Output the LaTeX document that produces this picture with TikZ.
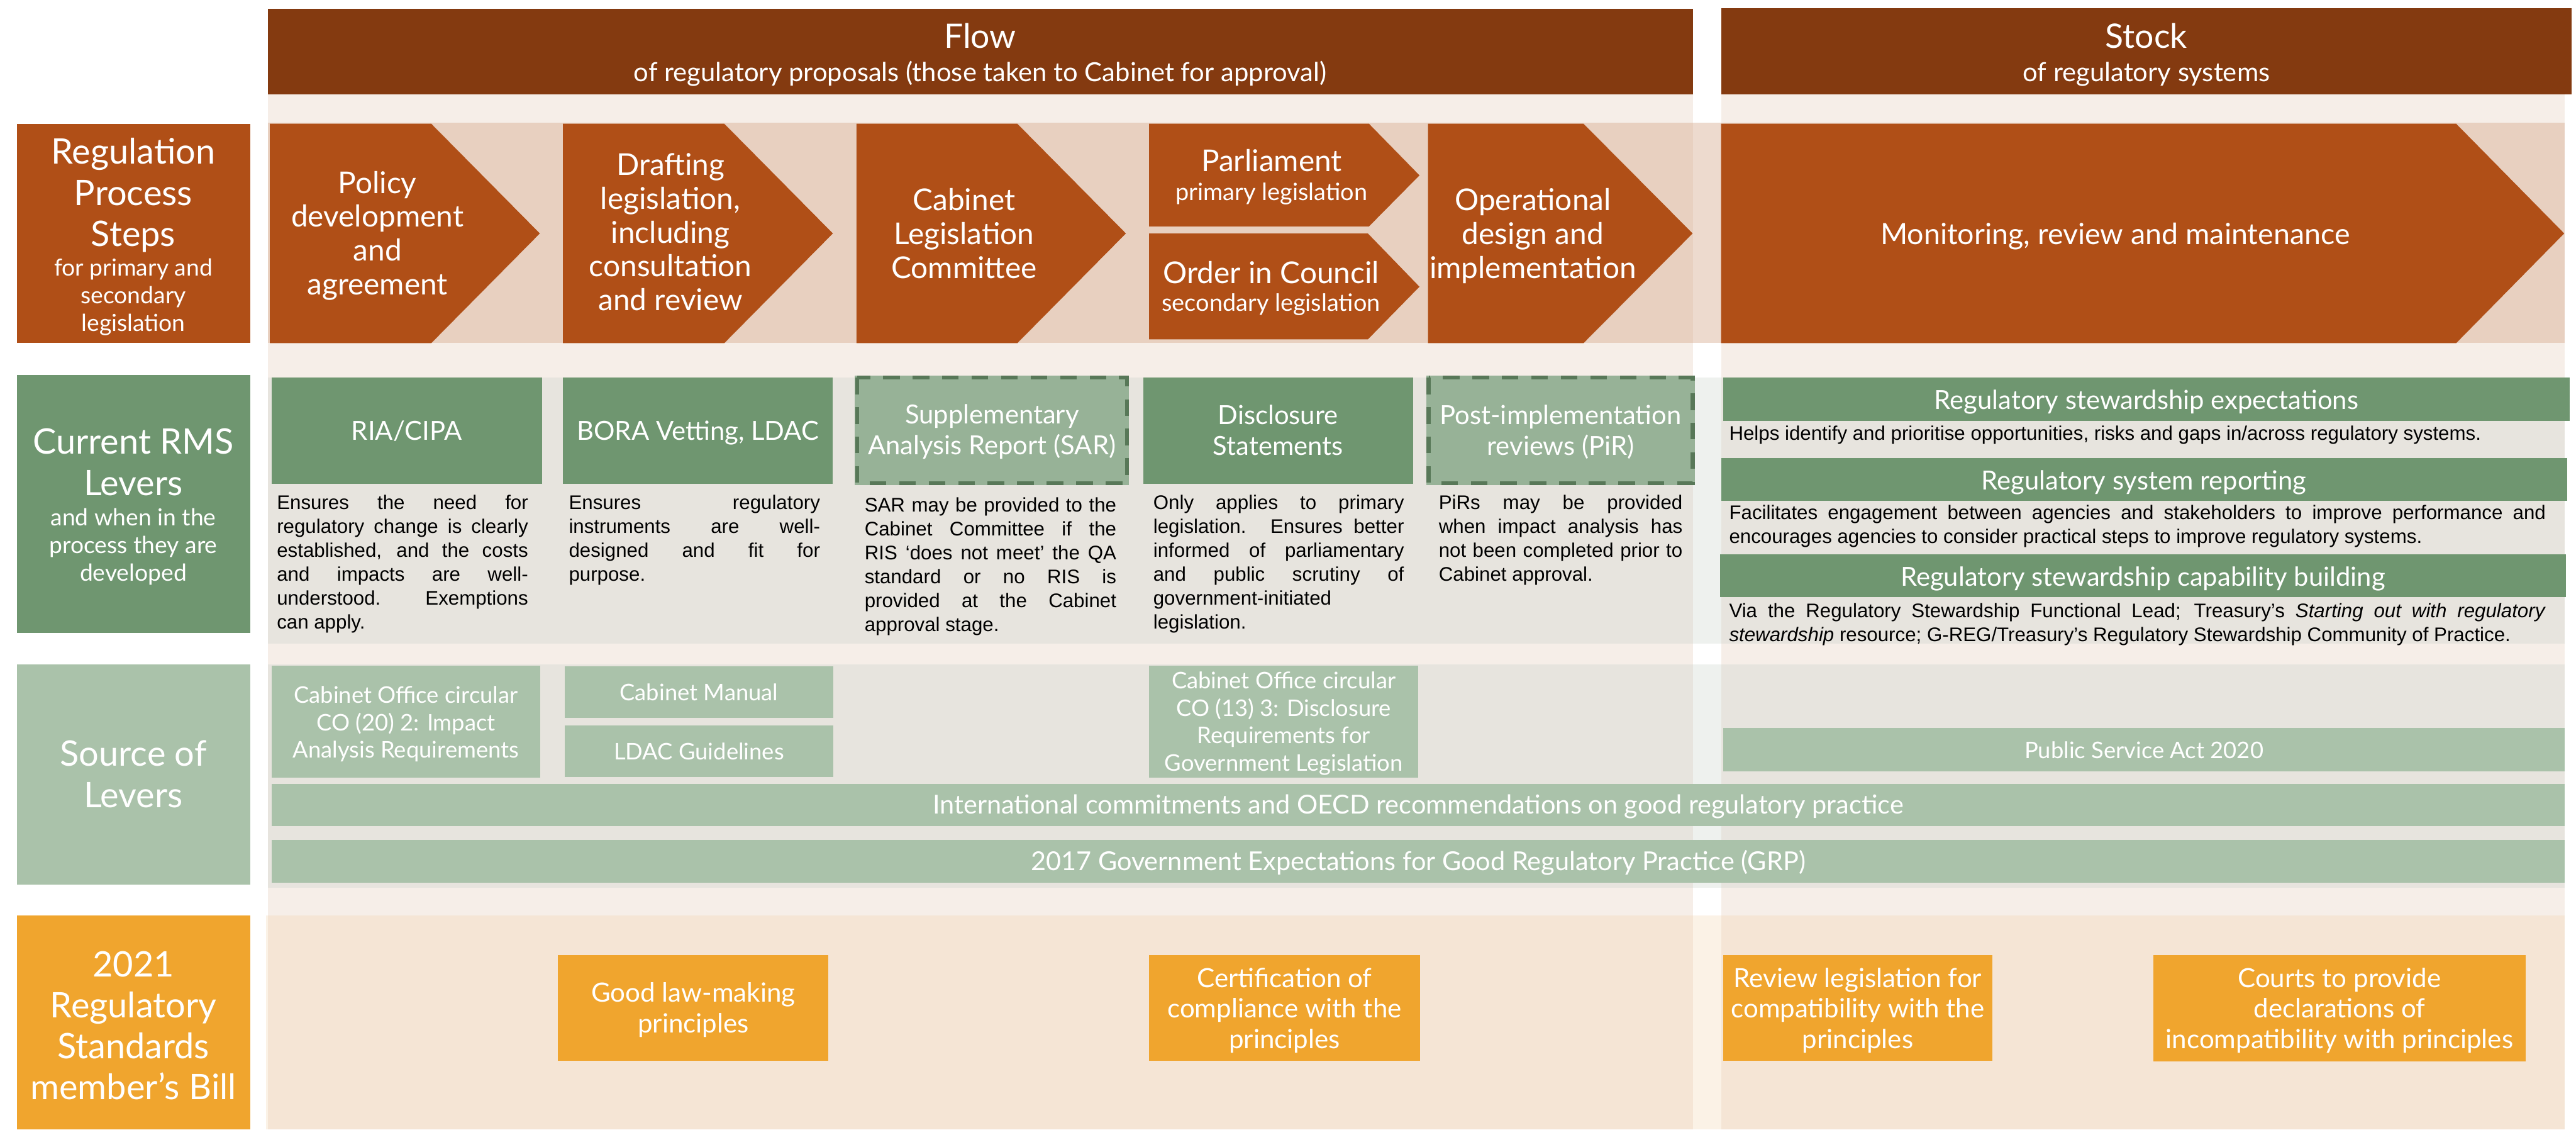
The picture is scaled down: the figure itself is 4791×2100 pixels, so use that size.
\documentclass[tikz,border=0pt]{standalone}
\usepackage{fontspec}
\setmainfont{Lato}
\newfontfamily\arialf{Liberation Sans}

\definecolor{hdr}{RGB}{132,58,16}
\definecolor{chev}{RGB}{176,79,23}
\definecolor{colbg}{RGB}{246,238,232}
\definecolor{bandA}{RGB}{211,163,132}
\definecolor{bandB}{RGB}{199,208,199}
\definecolor{bandC}{RGB}{243,211,172}
\definecolor{gdark}{RGB}{111,150,112}
\definecolor{glight}{RGB}{151,178,151}
\definecolor{gdash}{RGB}{88,120,88}
\definecolor{gsrc}{RGB}{170,194,170}
\definecolor{orng}{RGB}{240,165,46}

% paragraph lines: \jl spreads its words over the paragraph width \pw
\newlength{\pw}
\newcommand{\jl}[1]{\hbox to\pw{#1}}
\newcommand{\lastln}[1]{\hbox{#1}}

\begin{document}
\begin{tikzpicture}[x=0.01cm,y=-0.01cm,
  every node/.style={inner sep=0pt,outer sep=0pt},
  lab/.style={text=white,align=center,font=\fontsize{18.6}{21.7}\selectfont},
  labsub/.style={text=white,align=center,font=\fontsize{12.4}{14.6}\selectfont},
  ttl/.style={text=white,font=\fontsize{17.8}{20}\selectfont},
  subttl/.style={text=white,font=\fontsize{13.9}{16}\selectfont},
  chevtxt/.style={text=white,align=center,font=\fontsize{15.9}{17.9}\selectfont},
  chsub/.style={text=white,font=\fontsize{12.6}{15}\selectfont},
  montxt/.style={text=white,font=\fontsize{15.5}{18}\selectfont},
  levtxt/.style={text=white,align=center,font=\fontsize{13.9}{16.2}\selectfont},
  para/.style={anchor=base west,text=black,font=\arialf\fontsize{10.4}{12.6}\selectfont},
  srctxt/.style={text=white,align=center,font=\fontsize{12.1}{14.5}\selectfont},
  intl/.style={text=white,font=\fontsize{13.8}{16}\selectfont},
  orgtxt/.style={text=white,align=center,font=\fontsize{14}{16.2}\selectfont},
  dashbox/.style={draw=gdash,line width=2.1pt,dash pattern=on 8.8pt off 6.8pt}
]
\useasboundingbox (0,0) rectangle (4791,2100);

% column backgrounds and row bands
\fill[colbg] (498,175) rectangle (3149,2100);
\fill[colbg] (3201,175) rectangle (4770,2100);
\fill[bandA,fill opacity=0.4] (498,228) rectangle (4770,637);
\fill[bandB,fill opacity=0.3] (498,702) rectangle (4770,1196);
\fill[bandB,fill opacity=0.3] (498,1235) rectangle (4770,1650);
\fill[bandC,fill opacity=0.3] (495,1702) rectangle (4770,2100);

% column headers
\fill[hdr] (498,16) rectangle (3149,175);
\fill[hdr] (3201,15) rectangle (4783,175);
\node[ttl,anchor=base] (flow) at (1823,89) {Flow};
\node[subttl,anchor=base] (flowsub) at (1823,152) {of regulatory proposals (those taken to Cabinet for approval)};
\node[ttl,anchor=base] (stock) at (3992,89) {Stock};
\node[subttl,anchor=base] (stocksub) at (3992,152) {of regulatory systems};

% row labels
\fill[chev] (32,230) rectangle (465,638);
\node[lab,anchor=north] (lab1) at (248,257) {Regulation\\Process\\Steps};
\node[labsub,anchor=north] (lab1s) at (248,481) {for primary and\\secondary\\legislation};
\fill[gdark] (32,697) rectangle (465,1177);
\node[lab,anchor=north] (lab2) at (248,797) {Current RMS\\Levers};
\node[labsub,anchor=north] (lab2s) at (248,945) {and when in the\\process they are\\developed};
\fill[gsrc] (32,1235) rectangle (465,1644);
\node[lab,anchor=north] (lab3) at (248,1377) {Source of\\Levers};
\fill[orng] (32,1702) rectangle (465,2100);
\node[lab,anchor=north] (lab4) at (248,1768) {2021\\Regulatory\\Standards\\member’s Bill};

% process steps
\fill[chev] (502,230) -- (802,230) -- (1004,434) -- (802,638) -- (502,638) -- cycle;
\node[chevtxt,anchor=north] (st1) at (702,318) {Policy\\development\\and\\agreement};
\fill[chev] (1047,230) -- (1347,230) -- (1549,434) -- (1347,638) -- (1047,638) -- cycle;
\node[chevtxt,anchor=north] (st2) at (1247,285) {Drafting\\legislation,\\including\\consultation\\and review};
\fill[chev] (1593,230) -- (1892,230) -- (2094,434) -- (1892,638) -- (1593,638) -- cycle;
\node[chevtxt,anchor=north] (st3) at (1793,350) {Cabinet\\Legislation\\Committee};
\fill[chev] (2137,230) -- (2546,230) -- (2640,326) -- (2546,421) -- (2137,421) -- cycle;
\node[chevtxt,anchor=base] (st4) at (2365,319) {Parliament};
\node[chsub,anchor=base] (st4s) at (2365,373) {primary legislation};
\fill[chev] (2137,434) -- (2544,434) -- (2640,533) -- (2544,631) -- (2137,631) -- cycle;
\node[chevtxt,anchor=base] (st5) at (2364,527) {Order in Council};
\node[chsub,anchor=base] (st5s) at (2364,578) {secondary legislation};
\fill[chev] (2656,230) -- (2945,230) -- (3148,434) -- (2945,638) -- (2656,638) -- cycle;
\node[chevtxt,anchor=north] (st6) at (2851,350) {Operational\\design and\\implementation};
\fill[chev] (3201,230) -- (4568,230) -- (4769,434) -- (4568,638) -- (3201,638) -- cycle;
\node[montxt,anchor=base] (st7) at (3934,454) {Monitoring, review and maintenance};

% current levers: flow side
\fill[gdark] (505,702) rectangle (1008,899);
\node[levtxt,anchor=base] (lv1) at (756.5,818) {RIA/CIPA};
\fill[gdark] (1047,702) rectangle (1549,899);
\node[levtxt,anchor=base] (lv2) at (1298,818) {BORA Vetting, LDAC};
\fill[glight] (1590,698) rectangle (2100,902);
\draw[dashbox] (1594,702) rectangle (2096,898);
\node[levtxt,anchor=north] (lv3) at (1845,752) {Supplementary\\Analysis Report (SAR)};
\fill[gdark] (2126,702) rectangle (2628,899);
\node[levtxt,anchor=north] (lv4) at (2377,753) {Disclosure\\Statements};
\fill[glight] (2653,698) rectangle (3152,902);
\draw[dashbox] (2657,702) rectangle (3148,898);
\node[levtxt,anchor=north] (lv5) at (2902.5,753) {Post-implementation\\reviews (PiR)};

\node[para] (pv1) at (515,947) {\pw=4.67cm\vtop{\jl{Ensures the need for}\jl{regulatory change is clearly}%
  \jl{established, and the costs}\jl{and impacts are well-}\jl{understood. Exemptions}\lastln{can apply.}}};
\node[para] (pv2) at (1058,947) {\pw=4.67cm\vtop{\jl{Ensures regulatory}\jl{instruments are well-}%
  \jl{designed and fit for}\lastln{purpose.}}};
\node[para] (pv3) at (1608,952) {\pw=4.68cm\vtop{\jl{SAR may be provided to the}\jl{Cabinet Committee if the}%
  \jl{RIS ‘does not meet’ the QA}\jl{standard or no RIS is}\jl{provided at the Cabinet}\lastln{approval stage.}}};
\node[para] (pv4) at (2145,947) {\pw=4.66cm\vtop{\jl{Only applies to primary}\jl{legislation. Ensures better}%
  \jl{informed of parliamentary}\jl{and public scrutiny of}\lastln{government-initiated}\lastln{legislation.}}};
\node[para] (pv5) at (2676,947) {\pw=4.53cm\vtop{\jl{PiRs may be provided}\jl{when impact analysis has}%
  \jl{not been completed prior to}\lastln{Cabinet approval.}}};

% current levers: stock side
\fill[gdark] (3205,702) rectangle (4779,783);
\node[levtxt,anchor=base] (sv1) at (3992,761) {Regulatory stewardship expectations};
\node[para] (sp1) at (3216,818) {Helps identify and prioritise opportunities, risks and gaps in/across regulatory systems.};
\fill[gdark] (3201,851) rectangle (4774,931);
\node[levtxt,anchor=base] (sv2) at (3987.5,910) {Regulatory system reporting};
\node[para] (sp2) at (3216,966) {\pw=15.18cm\vtop{\jl{Facilitates engagement between agencies and stakeholders to improve performance and}%
  \lastln{encourages agencies to consider practical steps to improve regulatory systems.}}};
\fill[gdark] (3199,1031) rectangle (4772,1110);
\node[levtxt,anchor=base] (sv3) at (3985.5,1090) {Regulatory stewardship capability building};
\node[para] (sp3) at (3216,1148) {\pw=15.18cm\vtop{\jl{Via the Regulatory Stewardship Functional Lead; Treasury’s \textit{Starting out with regulatory}}%
  \lastln{\textit{stewardship} resource; G-REG/Treasury’s Regulatory Stewardship Community of Practice.}}};

% sources of levers
\fill[gsrc] (505,1238) rectangle (1005,1446);
\node[srctxt,anchor=north] (so1) at (755,1276) {Cabinet Office circular\\CO (20) 2: Impact\\Analysis Requirements};
\fill[gsrc] (1050,1239) rectangle (1550,1335);
\node[srctxt,anchor=base] (so2) at (1300,1302) {Cabinet Manual};
\fill[gsrc] (1050,1349) rectangle (1550,1445);
\node[srctxt,anchor=base] (so3) at (1300,1412) {LDAC Guidelines};
\fill[gsrc] (2137,1238) rectangle (2638,1446);
\node[srctxt,anchor=north] (so4) at (2387.5,1249) {Cabinet Office circular\\CO (13) 3: Disclosure\\Requirements for\\Government Legislation};
\fill[gsrc] (3205,1353) rectangle (4770,1434);
\node[srctxt,anchor=base] (so5) at (3987.5,1410) {Public Service Act 2020};
\fill[gsrc] (505,1457) rectangle (4770,1536);
\node[intl,anchor=base] (so6) at (2637.5,1513) {International commitments and OECD recommendations on good regulatory practice};
\fill[gsrc] (505,1562) rectangle (4770,1641);
\node[intl,anchor=base] (so7) at (2637.5,1618) {2017 Government Expectations for Good Regulatory Practice (GRP)};

% regulatory standards bill
\fill[orng] (1038,1775) rectangle (1541,1972);
\node[orgtxt,anchor=north] (bi1) at (1289.5,1827) {Good law-making\\principles};
\fill[orng] (2137,1775) rectangle (2641,1972);
\node[orgtxt,anchor=north] (bi2) at (2389,1799) {Certification of\\compliance with the\\principles};
\fill[orng] (3205,1775) rectangle (3705,1972);
\node[orgtxt,anchor=north] (bi3) at (3455,1799) {Review legislation for\\compatibility with the\\principles};
\fill[orng] (4005,1775) rectangle (4697,1973);
\node[orgtxt,anchor=north] (bi4) at (4351,1799) {Courts to provide\\declarations of\\incompatibility with principles};
\end{tikzpicture}
\end{document}
